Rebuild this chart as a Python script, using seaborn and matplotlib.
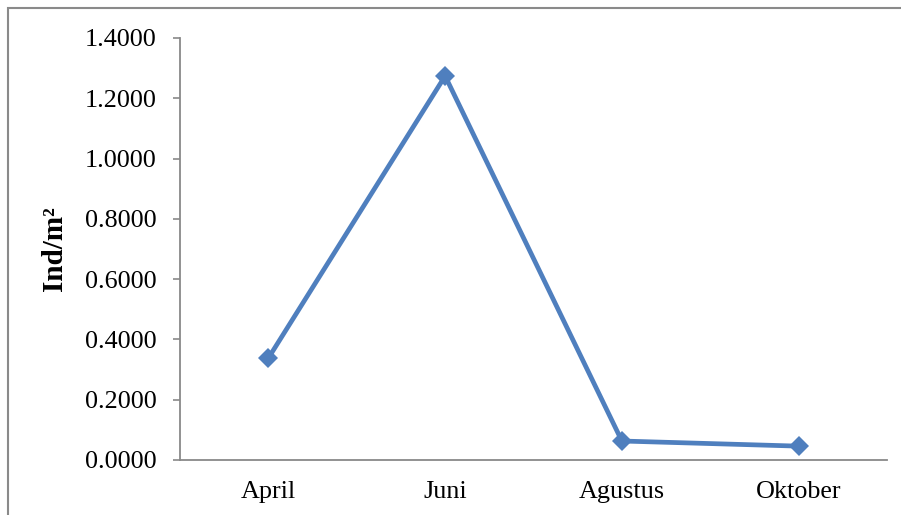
import matplotlib
matplotlib.use("Agg")
import matplotlib.pyplot as plt
from matplotlib.patches import Rectangle
import seaborn as sns
import pandas as pd

bulan = ["April", "Juni", "Agustus", "Oktober"]
kepadatan = [0.338, 1.274, 0.063, 0.046]
y_ticks = [0.0, 0.2, 0.4, 0.6, 0.8, 1.0, 1.2, 1.4]

sns.set_theme(style="white")
plt.rcParams["font.family"] = ["Liberation Serif", "DejaVu Serif"]
plt.rcParams["text.color"] = "black"
plt.rcParams["axes.labelcolor"] = "black"
plt.rcParams["xtick.color"] = "black"
plt.rcParams["ytick.color"] = "black"

df = pd.DataFrame({"Bulan": bulan, "Kepadatan": kepadatan})

fig = plt.figure(figsize=(9.01, 5.15), dpi=100)
ax = fig.add_axes([180 / 901, 1 - 460 / 515, 707 / 901, 422 / 515])

sns.lineplot(data=df, x="Bulan", y="Kepadatan", sort=False, ax=ax,
             color="#4F7FBE", linewidth=3.4, marker="D", markersize=10.5,
             markeredgecolor="#4F7FBE", markeredgewidth=0)

ax.set_xlim(-0.5, 3.5)
ax.set_ylim(0, 1.4)
ax.set_yticks(y_ticks)
ax.set_yticklabels([f"{v:.4f}" for v in y_ticks])
ax.set_xticks(range(len(bulan)))
ax.set_xticklabels(bulan)

ax.tick_params(axis="y", length=5, width=1.2, color="#898989", labelcolor="black",
               pad=12, labelsize=18.8, left=True, direction="out")
ax.tick_params(axis="x", length=0, pad=15, labelsize=18.8, labelcolor="black")

for side in ["top", "right"]:
    ax.spines[side].set_visible(False)
for side in ["left", "bottom"]:
    ax.spines[side].set_color("#898989")
    ax.spines[side].set_linewidth(1.3)

ax.set_xlabel("")
ax.set_ylabel("Ind/m²", fontsize=21, fontweight="bold", color="black")
ax.yaxis.set_label_coords(-0.158, 0.5)

# outer chart frame
fig.patches.append(Rectangle((8 / 901, -0.1), 1.2, 1 - 8 / 515 + 0.1,
                             transform=fig.transFigure, fill=False,
                             edgecolor="#8a8a8a", linewidth=1.5))

fig.savefig("out.png", dpi=100)
